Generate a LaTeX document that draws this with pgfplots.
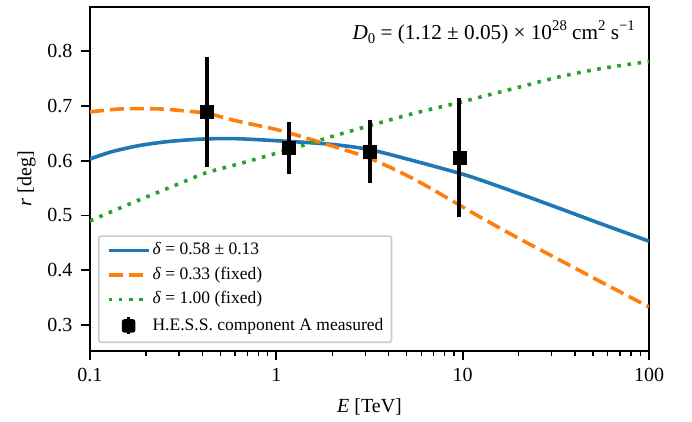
\documentclass[border=0pt]{standalone}
\usepackage{fontspec}
\setmainfont{Liberation Serif}
\usepackage{pgfplots}
\pgfplotsset{compat=1.18}
\definecolor{tabblue}{HTML}{1F77B4}
\definecolor{taborange}{HTML}{FF7F0E}
\definecolor{tabgreen}{HTML}{2CA02C}
\definecolor{legframe}{HTML}{CCCCCC}
\newcommand\sups[1]{\raisebox{0.42em}{\fontsize{14.8}{16}\selectfont #1}}
\newcommand\subs[1]{\raisebox{-0.2em}{\fontsize{14.8}{16}\selectfont #1}}
\begin{document}
\begin{tikzpicture}
\begin{axis}[
  scale only axis, width=559pt, height=344.3pt,
  xmode=log, log basis x=10,
  xmin=0.1, xmax=100, ymin=0.2525, ymax=0.881,
  xtick={0.1,1,10,100}, xticklabels={0.1,1,10,100},
  minor xtick={0.2,0.3,0.4,0.5,0.6,0.7,0.8,0.9,2,3,4,5,6,7,8,9,20,30,40,50,60,70,80,90},
  ytick={0.3,0.4,0.5,0.6,0.7,0.8}, yticklabels={0.3,0.4,0.5,0.6,0.7,0.8},
  tick align=outside, tick pos=left,
  major tick length=9pt, minor tick length=5pt,
  every tick/.style={black, line width=1.8pt},
  every minor tick/.style={black, line width=1.3pt},
  axis line style={line width=2.4pt},
  /pgf/number format/assume math mode=true,
  ticklabel style={font=\fontsize{20}{24}\selectfont},
  xticklabel style={yshift=-5pt},
  yticklabel style={xshift=-5pt},
  label style={font=\fontsize{20}{24}\selectfont},
  xlabel={\textit{E} [TeV]}, ylabel={\textit{r} [deg]},
  xlabel shift=10pt, ylabel shift=5pt,
  legend cell align=left,
  legend image code/.code={\draw[#1] (0pt,0pt) -- (40pt,0pt); \path[draw=none] (0pt,0pt) -- (44pt,0pt);},
  legend style={at={(axis description cs:0.0143,0.0232)}, anchor=south west,
    draw=legframe, line width=1.6pt, rounded corners=2pt, fill=white,
    inner xsep=8pt, inner ysep=6pt, row sep=8pt,
    font=\fontsize{17.5}{21}\selectfont,
    nodes={inner sep=0pt, text height=12.5pt, text depth=4pt}},
]
\addplot[tabblue, line width=3.6pt, smooth] coordinates {
(0.1,0.603) (0.13,0.616) (0.18,0.627) (0.25,0.634) (0.34,0.638) (0.45,0.640) (0.62,0.640)
(1.05,0.636) (1.94,0.630) (3.18,0.620) (5.43,0.600) (9.6,0.577) (12.4,0.565)
(20,0.540) (33,0.513) (55,0.485) (100,0.453)};
\addlegendentry{\textit{δ} = 0.58 ± 0.13}
\addplot[taborange, line width=3.6pt, dash pattern=on 14pt off 6pt, smooth] coordinates {
(0.1,0.689) (0.14,0.694) (0.18,0.695) (0.25,0.694) (0.34,0.690) (0.43,0.686) (0.62,0.672)
(1.05,0.655) (1.94,0.628) (3.18,0.604) (5.43,0.567) (9.6,0.519) (12.4,0.497)
(20,0.458) (33,0.419) (55,0.379) (100,0.333)};
\addlegendentry{\textit{δ} = 0.33 (fixed)}
\addplot[tabgreen, line width=3.6pt, dash pattern=on 3.6pt off 6.6pt, smooth] coordinates {
(0.1,0.490) (0.177,0.526) (0.287,0.555) (0.413,0.577) (0.598,0.592) (0.99,0.613) (1.34,0.626)
(1.94,0.643) (3.18,0.664) (5.43,0.686) (9.6,0.706) (12.4,0.716) (20,0.734)
(33,0.753) (55,0.768) (100,0.781)};
\addlegendentry{\textit{δ} = 1.00 (fixed)}
\addplot[black, only marks, mark=square*, mark size=6.5pt,
  legend image code/.code={\draw[black,line width=3.6pt] (20pt,-8.5pt)--(20pt,8.5pt);
    \fill[black] (14pt,-6pt) rectangle (26pt,6pt); \path[draw=none] (0pt,0pt) -- (44pt,0pt);},
  error bars/.cd, y dir=both, y explicit, error mark=none,
  error bar style={line width=3.6pt, black}] coordinates {
(0.425,0.689) +- (0,0.100)
(1.17,0.623) +- (0,0.047)
(3.18,0.617) +- (0,0.057)
(9.59,0.606) +- (0,0.1085)};
\addlegendentry{H.E.S.S. component A measured\hspace{4pt}}
\node[anchor=base east, inner sep=0pt, font=\fontsize{21.2}{24}\selectfont]
  at (rel axis cs:1,1) [xshift=-14pt, yshift=-32.6pt]
  {\textit{D}\subs{0} = (1.12 ± 0.05) × 10\sups{28} cm\sups{2} s\sups{−1}};
\end{axis}
\path (current axis.south west) ++(-90pt,-70pt) rectangle ++(692pt,421pt);
\end{tikzpicture}
\end{document}
